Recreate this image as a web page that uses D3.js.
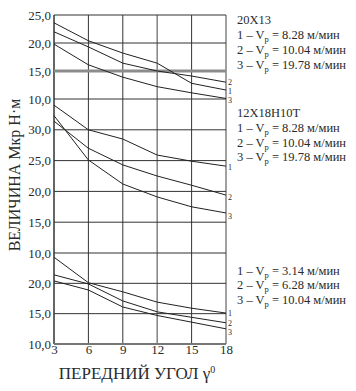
<!DOCTYPE html>
<html><head><meta charset="utf-8">
<script src="https://cdn.jsdelivr.net/npm/d3@7"></script>
<style>
html,body{margin:0;padding:0;background:#fff;}
</style></head>
<body><svg id="c" width="356" height="391"></svg>
<script>
// ---- data ----
const angles = [3, 6, 9, 12, 15, 18];
const xTicks = [3, 6, 9, 12, 15, 18];

// panel 1: 20X13
const top1 = [23.6, 20.4, 18.2, 16.4, 12.8, 11.6];
const top2 = [22.0, 19.3, 16.4, 15.0, 14.1, 13.0];
const top3 = [19.8, 16.1, 13.9, 12.2, 11.1, 10.1];
const topTicks = [25, 20, 15, 10];

// panel 2: 12X18H10T
const mid1 = [34.0, 30.0, 28.5, 25.9, 24.9, 24.1];
const mid2 = [31.4, 27.0, 24.3, 22.5, 21.0, 19.4];
const mid3 = [32.3, 25.1, 21.2, 19.1, 17.5, 16.5];
const midTicks = [30, 25, 20, 15, 10];

// panel 3
const bot1 = [24.3, 20.1, 18.6, 16.9, 15.9, 15.1];
const bot2 = [21.4, 19.9, 17.1, 15.3, 14.4, 13.5];
const bot3 = [20.4, 18.9, 16.1, 14.7, 13.6, 12.5];
const botTicks = [20, 15, 10];

const legendTop = ["20X13", "8.28", "10.04", "19.78"];
const legendMid = ["12X18H10T", "8.28", "10.04", "19.78"];
const legendBot = ["", "3.14", "6.28", "10.04"];
const xTitle = "ПЕРЕДНИЙ УГОЛ γ";
const yTitle = "ВЕЛИЧИНА Мкр Н·м";

// ---- layout ----
const FONT = "'Liberation Serif'";
const svg = d3.select("#c");
const X0 = 54, X1 = 226;
const x = d3.scaleLinear().domain([3, 18]).range([X0, X1]);
const panels = [
  {y: d3.scaleLinear().domain([10, 25]).range([99, 15]), grid: [25, 20, 15, 10], ticks: topTicks, series: [top1, top2, top3], labelDy: [1, 0, 1.6], legend: legendTop, ly: 20, lstep: 15},
  {y: d3.scaleLinear().domain([10, 35]).range([253, 99]), grid: [30, 25, 20, 15, 10], ticks: midTicks, series: [mid1, mid2, mid3], labelDy: [1, 2, 3], legend: legendMid, ly: 113, lstep: 14.8},
  {y: d3.scaleLinear().domain([10, 25]).range([344, 253]), grid: [20, 15, 10], ticks: botTicks, series: [bot1, bot2, bot3], labelDy: [0, 1, 3], legend: legendBot, ly: 256, lstep: 14.5}
];

const fmt = d => d.toFixed(1).replace(".", ",");
const txt = sel => sel.style("font-family", FONT).attr("fill", "#2a2a2a");

// vertical grid
const vg = svg.append("g");
xTicks.forEach(t => {
  const gray = (t === 12 || t === 18);
  vg.append("line").attr("x1", x(t)).attr("x2", x(t)).attr("y1", 15).attr("y2", 344)
    .attr("stroke", gray ? "#8a8a8a" : "#333").attr("stroke-width", gray ? 1.6 : 1);
});
svg.append("line").attr("x1", X0).attr("x2", X0).attr("y1", 15).attr("y2", 344).attr("stroke", "#333");

panels.forEach((p, pi) => {
  const g = svg.append("g");
  p.grid.forEach(v => {
    const thick = (pi === 0 && v === 15);
    const bottom = (pi === 2 && v === 10);
    g.append("line").attr("x1", X0).attr("x2", X1).attr("y1", p.y(v)).attr("y2", p.y(v))
      .attr("stroke", thick ? "#8c8c8c" : (bottom ? "#777" : "#333"))
      .attr("stroke-width", thick ? 3 : (bottom ? 1.8 : 1));
  });

  const ax = svg.append("g").attr("transform", `translate(${X0 - 1},0)`)
    .call(d3.axisLeft(p.y).tickValues(p.ticks).tickSize(0).tickPadding(2).tickFormat(fmt));
  ax.attr("font-family", null);
  ax.select(".domain").remove();
  txt(ax.selectAll("text")).style("font-size", "13px");

  const line = d3.line().x((d, i) => x(angles[i])).y(d => p.y(d));
  p.series.forEach((s, si) => {
    g.append("path").attr("d", line(s)).attr("fill", "none").attr("stroke", "#222").attr("stroke-width", 1);
    txt(g.append("text").attr("x", X1 + 2).attr("y", p.y(s[s.length - 1]) + p.labelDy[si] + 2.7)
      .style("font-size", "8px").text(si + 1));
  });

  const lg = svg.append("g").attr("transform", `translate(237,0)`);
  if (p.legend[0]) txt(lg.append("text").attr("x", 0).attr("y", p.ly + 4).style("font-size", "12.5px").text(p.legend[0]));
  for (let k = 1; k <= 3; k++) {
    const t = txt(lg.append("text").attr("x", 0).attr("y", p.ly + 4 + k * p.lstep).style("font-size", "12.5px"));
    t.append("tspan").text(k + " – V");
    t.append("tspan").attr("dy", 3).style("font-size", "8.5px").text("р");
    t.append("tspan").attr("dy", -3).text(" = " + p.legend[k] + " м/мин");
  }
});

const xa = svg.append("g").attr("transform", "translate(0,344)")
  .call(d3.axisBottom(x).tickValues(xTicks).tickSize(0).tickPadding(1).tickFormat(d => d));
xa.attr("font-family", null);
xa.select(".domain").remove();
txt(xa.selectAll("text")).style("font-size", "13px");

const xt = txt(svg.append("text").attr("x", 137).attr("y", 379).attr("text-anchor", "middle").style("font-size", "17px"));
xt.append("tspan").text(xTitle);
xt.append("tspan").attr("dy", -6).style("font-size", "10px").text("0");

txt(svg.append("text").attr("transform", "translate(20,175) rotate(-90)").attr("text-anchor", "middle")
  .style("font-size", "16px").text(yTitle));
</script></body></html>
